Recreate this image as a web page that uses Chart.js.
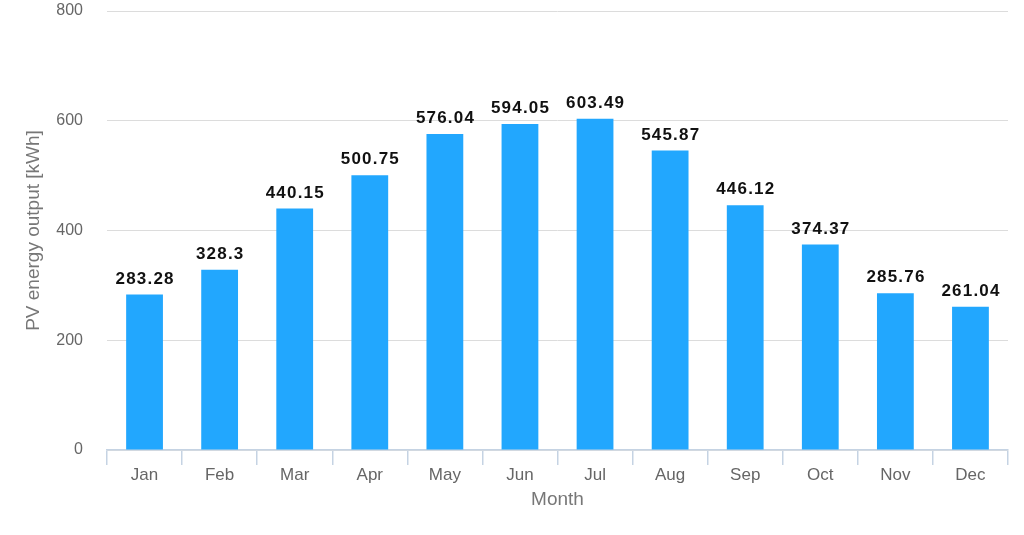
<!DOCTYPE html>
<html><head><meta charset="utf-8">
<script src="https://cdn.jsdelivr.net/npm/chart.js@4/dist/chart.umd.min.js"></script>
<style>html,body{margin:0;padding:0;background:#fff}#wrap{width:1024px;height:535px}</style>
</head><body><div id="wrap"><canvas id="c" width="1024" height="535"></canvas></div>
<script>
const months = ['Jan','Feb','Mar','Apr','May','Jun','Jul','Aug','Sep','Oct','Nov','Dec'];
const pvOutput = [283.28,328.3,440.15,500.75,576.04,594.05,603.49,545.87,446.12,374.37,285.76,261.04];
const yTicks = [0,200,400,600,800];

const labelPlugin = {
  id:'vals',
  afterDatasetsDraw(chart){
    const ctx = chart.ctx;
    const meta = chart.getDatasetMeta(0);
    ctx.save();
    ctx.font = 'bold 17px "Liberation Sans", Arial, sans-serif';
    if ('letterSpacing' in ctx) ctx.letterSpacing = '1.2px';
    ctx.fillStyle = '#111';
    ctx.textAlign = 'center';
    ctx.textBaseline = 'bottom';
    meta.data.forEach((el,i)=>{
      ctx.fillText(String(pvOutput[i]), el.x + 0.6, el.y - 7);
    });
    ctx.restore();
  }
};

new Chart(document.getElementById('c'), {
  type:'bar',
  data:{labels:months, datasets:[{data:pvOutput, backgroundColor:'#22a7fe', barPercentage:0.49, categoryPercentage:1}]},
  options:{
    responsive:false, animation:false,
    layout:{padding:{top:11,right:16,left:16,bottom:18}},
    plugins:{legend:{display:false}, tooltip:{enabled:false}},
    scales:{
      x:{
        offset:true,
        afterFit(s){ s.height = 67; },
        grid:{display:true, drawOnChartArea:false, offset:true, tickLength:15, color:'#c5d3e3', lineWidth:1.5},
        border:{display:true, color:'#c5d3e3', width:1.5},
        ticks:{color:'#666', font:{family:'"Liberation Sans", Arial, sans-serif', size:17}, padding:0},
        title:{display:true, text:'Month', color:'#777', font:{family:'"Liberation Sans", Arial, sans-serif', size:19}, padding:{top:0,bottom:6}}
      },
      y:{
        min:0, max:800,
        afterBuildTicks(s){ s.ticks = yTicks.map(v=>({value:v})); },
        afterFit(s){ s.width = 91; s.paddingTop = 0; s.paddingBottom = 0; },
        grid:{color:'#dcdcdc', drawTicks:false, lineWidth:1},
        border:{display:false},
        ticks:{color:'#666', font:{family:'"Liberation Sans", Arial, sans-serif', size:16}, padding:24},
        title:{display:true, text:'PV energy output [kWh]', color:'#777', font:{family:'"Liberation Sans", Arial, sans-serif', size:19}, padding:{top:6,bottom:0}}
      }
    }
  },
  plugins:[labelPlugin]
});
</script></body></html>
